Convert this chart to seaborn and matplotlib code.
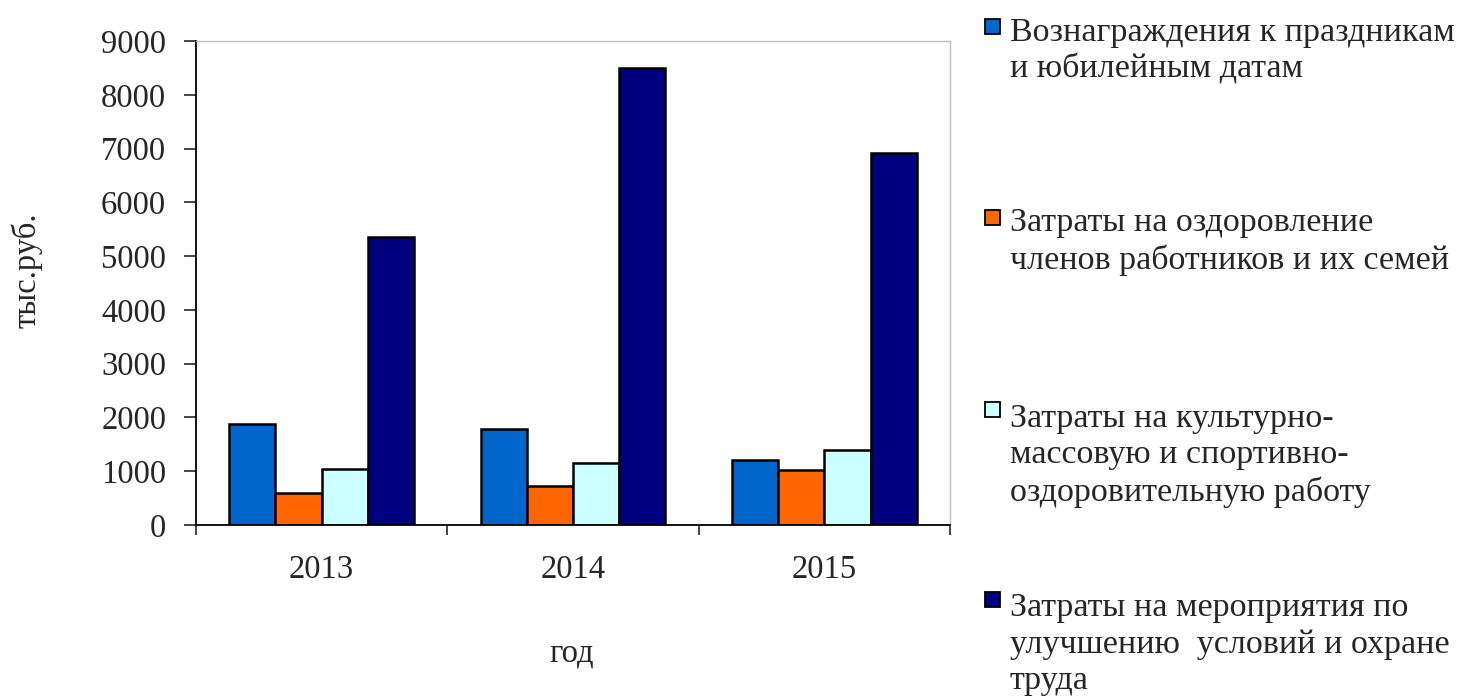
import matplotlib
matplotlib.use('Agg')
import matplotlib.pyplot as plt
import seaborn as sns
import pandas as pd
from matplotlib.patches import Rectangle
from matplotlib.ticker import FixedLocator

sns.set_style('white')
plt.rcParams['font.family'] = ['Liberation Serif', 'DejaVu Serif']
FS = 23.5
LFS = 24.5

# данные (тыс.руб.)
years = ['2013', '2014', '2015']
awards = [1870, 1780, 1210]       # Вознаграждения к праздникам и юбилейным датам
health = [590, 720, 1020]         # Затраты на оздоровление
culture = [1050, 1160, 1390]      # культурно-массовая и спортивная работа
labour = [5360, 8500, 6910]       # мероприятия по охране труда

labels = ['Вознаграждения к праздникам\nи юбилейным датам',
          'Затраты на оздоровление\nчленов работников и их семей',
          'Затраты на культурно-\nмассовую и спортивно-\nоздоровительную работу',
          'Затраты на мероприятия по\nулучшению  условий и охране\nтруда']
colors = ['#0066CC', '#FF6600', '#CCFFFF', '#000080']

series = [awards, health, culture, labour]
df = pd.DataFrame({
    'год': [y for s in series for y in years],
    'статья': [labels[i] for i, s in enumerate(series) for _ in years],
    'сумма': [v for s in series for v in s],
})

fig = plt.figure(figsize=(14.59, 6.98), dpi=100)
ax = fig.add_axes([196 / 1459, 1 - 525 / 698, (950 - 196) / 1459, (525 - 41) / 698])

sns.barplot(data=df, x='год', y='сумма', hue='статья', hue_order=labels,
            palette=colors, saturation=1, width=0.736, gap=0, edgecolor='black',
            linewidth=1.8, legend=False, ax=ax)

ax.set_xlim(-0.5, 2.5)
ax.set_ylim(0, 9000)
ax.set_yticks(range(0, 9001, 1000))
ax.tick_params(axis='y', direction='out', length=8.5, width=1.2, pad=13,
               labelsize=FS, left=True)
ax.tick_params(axis='x', which='major', length=0, pad=21, labelsize=FS)
ax.xaxis.set_minor_locator(FixedLocator([-0.5, 0.5, 1.5, 2.5]))
ax.tick_params(axis='x', which='minor', direction='out', length=7.2, width=1.2,
               bottom=True)

for side in ['left', 'bottom']:
    ax.spines[side].set_color('black')
    ax.spines[side].set_linewidth(1.3)
for side in ['top', 'right']:
    ax.spines[side].set_visible(True)
    ax.spines[side].set_color('#BFBFBF')
    ax.spines[side].set_linewidth(1.0)

ax.set_ylabel('тыс.руб.', fontsize=FS)
ax.yaxis.set_label_coords(-0.203, 0.527)
ax.set_xlabel('год', fontsize=FS)
ax.xaxis.set_label_coords(0.498, -0.233)

# легенда справа: центр первой строки и базовая линия последней
first_centers = [27, 218, 410, 600]
last_baselines = [78, 269, 501, 689]
for lab, col, yc, yb in zip(labels, colors, first_centers, last_baselines):
    fig.text(1010 / 1459, 1 - yb / 698, lab, fontsize=LFS, va='baseline',
             ha='left', linespacing=1.25)
    fig.patches.append(Rectangle((985 / 1459, 1 - (yc + 7) / 698), 15 / 1459, 15 / 698,
                                 transform=fig.transFigure, facecolor=col,
                                 edgecolor='black', linewidth=1.3))

plt.savefig('out.png', dpi=100)
